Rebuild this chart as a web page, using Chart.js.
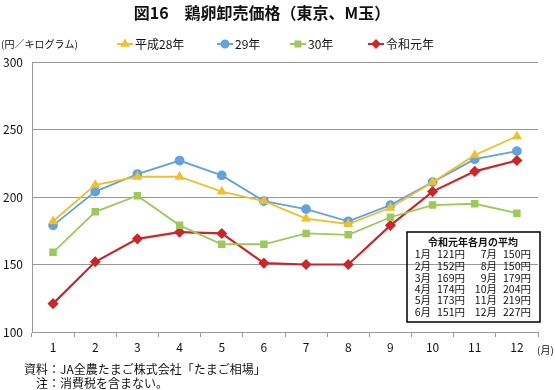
<!DOCTYPE html>
<html>
<head>
<meta charset="utf-8">
<script src="https://cdn.jsdelivr.net/npm/chart.js"></script>
<style>
  html, body { margin: 0; padding: 0; background: #fff; }
  #wrap { width: 555px; height: 390px; position: relative; }
</style>
</head>
<body>
<div id="wrap"><canvas id="eggChart"></canvas></div>
<script>
// 鶏卵卸売価格（東京、M玉） 円/kg
const months = ['1', '2', '3', '4', '5', '6', '7', '8', '9', '10', '11', '12'];
const h28 = [182, 209, 215, 215, 204, 197, 184, 180, 192, 211, 231, 245];
const h29 = [179, 204, 217, 227, 216, 197, 191, 182, 194, 211, 228, 234];
const h30 = [159, 189, 201, 179, 165, 165, 173, 172, 185, 194, 195, 188];
const r1 = [121, 152, 169, 174, 173, 151, 150, 150, 179, 204, 219, 227];
const yTicks = [100, 150, 200, 250, 300];

const FONT = '"Noto Sans CJK JP", "Noto Sans", sans-serif';

// titles, legend, notes and the monthly table
const decorPlugin = {
    id: 'decor',
    afterDraw(chart) {
        const ctx = chart.ctx;
        ctx.save();
        ctx.fillStyle = '#111';
        ctx.textBaseline = 'middle';

        ctx.font = 'bold 16px ' + FONT;
        ctx.textAlign = 'center';
        ctx.fillText('図16　鶏卵卸売価格（東京、M玉）', 262, 13);

        ctx.font = '10px ' + FONT;
        ctx.textAlign = 'left';
        ctx.fillText('(円／キログラム)', 1, 44);

        // legend: line with marker in middle
        const legendX = [117, 217, 290, 368];
        chart.data.datasets.forEach((ds, i) => {
            const x = legendX[i];
            const y = 44;
            ctx.strokeStyle = ds.borderColor;
            ctx.lineWidth = 2;
            ctx.beginPath();
            ctx.moveTo(x, y);
            ctx.lineTo(x + 16, y);
            ctx.stroke();
            Chart.helpers.drawPoint(ctx, {
                pointStyle: ds.pointStyle,
                radius: 3.5,
                rotation: 0,
                borderWidth: 1
            }, x + 8, y);
            ctx.fillStyle = ds.borderColor;
            ctx.fill();
            ctx.fillStyle = '#111';
            ctx.font = '12px ' + FONT;
            ctx.textAlign = 'left';
            ctx.fillText(ds.label, x + 18, y);
        });

        ctx.font = '10px ' + FONT;
        ctx.fillText('(月)', 537, 350);

        ctx.font = '12px ' + FONT;
        ctx.fillText('資料：JA全農たまご株式会社「たまご相場」', 24, 369);
        ctx.fillText('注：消費税を含まない。', 36, 383);

        // table box
        ctx.strokeStyle = '#000';
        ctx.lineWidth = 1.5;
        ctx.strokeRect(407, 232, 133, 90);
        ctx.font = 'bold 10px ' + FONT;
        ctx.textAlign = 'center';
        ctx.fillText('令和元年各月の平均', 473, 242);
        ctx.font = '10.5px ' + FONT;
        const rowY = [254, 266, 278, 289, 300, 312];
        for (let i = 0; i < 6; i++) {
            const y = rowY[i];
            ctx.textAlign = 'right';
            ctx.fillText(months[i] + '月', 431, y);
            ctx.fillText(r1[i] + '円', 465, y);
            ctx.fillText(months[i + 6] + '月', 497, y);
            ctx.fillText(r1[i + 6] + '円', 531, y);
        }
        ctx.restore();
    }
};

const ctx = document.getElementById('eggChart').getContext('2d');
new Chart(ctx, {
    type: 'line',
    data: {
        labels: months,
        datasets: [
            {
                label: '平成28年',
                data: h28,
                borderColor: '#EFBF2C',
                backgroundColor: '#EFBF2C',
                pointStyle: 'triangle',
                pointRadius: 4,
                borderWidth: 1.8
            },
            {
                label: '29年',
                data: h29,
                borderColor: '#63A2DB',
                backgroundColor: '#63A2DB',
                pointStyle: 'circle',
                pointRadius: 4,
                borderWidth: 1.8
            },
            {
                label: '30年',
                data: h30,
                borderColor: '#9DC85A',
                backgroundColor: '#9DC85A',
                pointStyle: 'rect',
                pointRadius: 4,
                borderWidth: 1.8
            },
            {
                label: '令和元年',
                data: r1,
                borderColor: '#C8282A',
                backgroundColor: '#C8282A',
                pointStyle: 'rectRot',
                pointRadius: 4,
                borderWidth: 2.2
            }
        ]
    },
    options: {
        responsive: true,
        maintainAspectRatio: false,
        animation: false,
        layout: { padding: { top: 62, right: 17, bottom: 0, left: 0 } },
        plugins: {
            legend: { display: false },
            tooltip: { enabled: false }
        },
        elements: { line: { tension: 0 }, point: { borderWidth: 1 } },
        scales: {
            x: {
                offset: true,
                grid: {
                    offset: true,
                    drawOnChartArea: false,
                    drawTicks: true,
                    tickLength: 5,
                    color: '#999'
                },
                border: { color: '#999', width: 1 },
                ticks: {
                    color: '#111',
                    font: { size: 12, family: FONT },
                    padding: 3,
                    maxRotation: 0
                },
                afterFit(scale) { scale.height = 58; }
            },
            y: {
                min: 100,
                max: 300,
                afterBuildTicks(scale) {
                    scale.ticks = yTicks.map(v => ({ value: v }));
                },
                grid: {
                    color: '#999',
                    drawTicks: false
                },
                border: { color: '#999', width: 1 },
                ticks: {
                    color: '#111',
                    font: { size: 12, family: FONT },
                    padding: 9
                },
                afterFit(scale) { scale.width = 32; }
            }
        }
    },
    plugins: [decorPlugin]
});
</script>
</body>
</html>
